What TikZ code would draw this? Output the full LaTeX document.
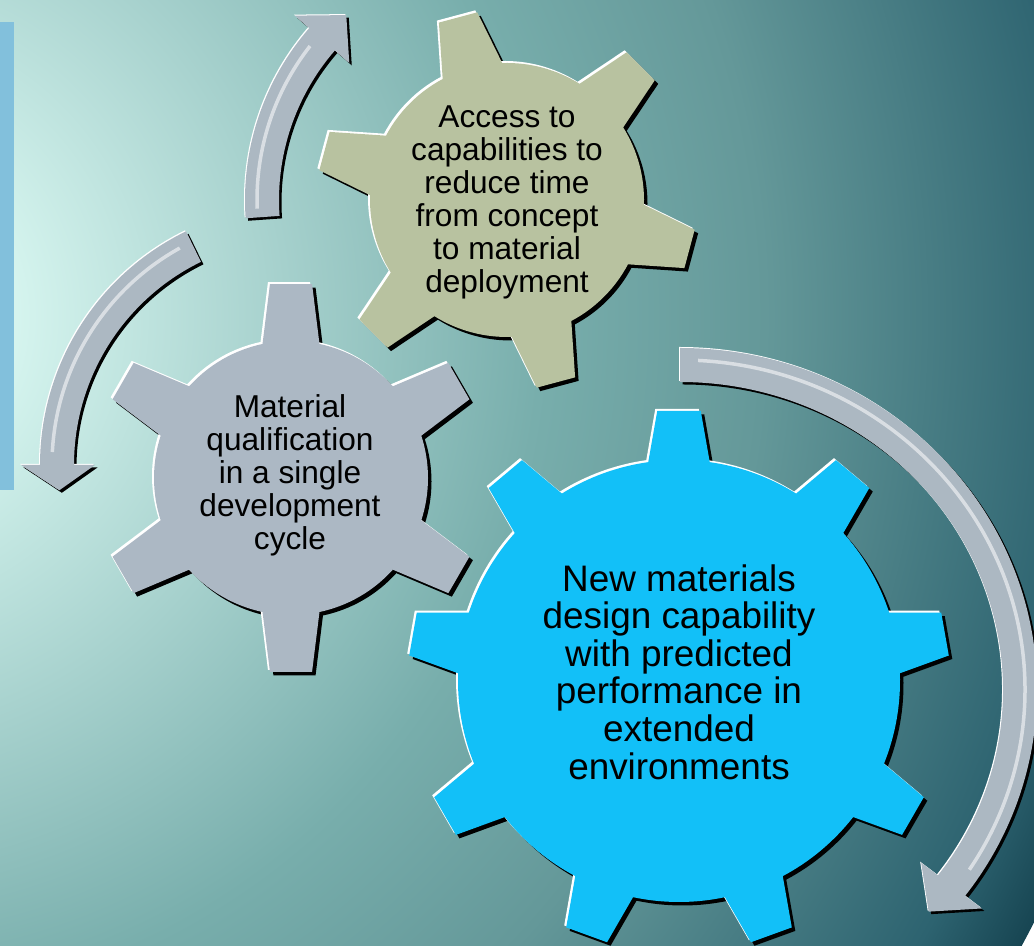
\documentclass[tikz,border=0pt]{standalone}
\usepackage{fontspec}
\setmainfont{Liberation Sans}
\usepackage{tikz}
\usetikzlibrary{shadows}
\definecolor{bglight}{RGB}{214,245,239}
\definecolor{bgmid}{RGB}{120,174,172}
\definecolor{bgmidd}{RGB}{100,152,153}
\definecolor{bgdeep}{RGB}{45,99,112}
\definecolor{bgdark}{RGB}{23,69,82}
\definecolor{barblue}{RGB}{130,192,220}
\definecolor{olivegear}{RGB}{184,194,160}
\definecolor{greygear}{RGB}{172,184,196}
\definecolor{cyangear}{RGB}{18,192,248}
\definecolor{silver}{RGB}{172,184,194}
\pgfdeclareradialshading{bgglow}{\pgfpoint{0bp}{0bp}}{color(0bp)=(bglight); color(3bp)=(bglight);
  color(13bp)=(bgmid); color(17.2bp)=(bgmidd); color(23.3bp)=(bgdeep); color(25bp)=(bgdark);
  color(50bp)=(bgdark)}
\tikzset{
  gear/.style      = {fill=#1,
                      general shadow={fill=black, shadow xshift=.07cm, shadow yshift=-.07cm},
                      general shadow={fill=white, shadow xshift=-.04cm, shadow yshift=.04cm}},
  bend arrow/.style = {fill=silver,
                      general shadow={fill=black, shadow xshift=.05cm, shadow yshift=-.05cm},
                      general shadow={fill=white, shadow xshift=-.02cm, shadow yshift=.02cm}},
  shine/.style     = {draw=white, opacity=.55, line width=.07cm},
  lbl/.style       = {align=center, inner sep=0pt, font=\fontsize{18}{18.8}\selectfont},
  big lbl/.style   = {lbl, font=\fontsize{21}{21.4}\selectfont},
}
% gear outline: teeth, outer r, root r, tip half angle, base half angle, first tooth
\newcommand{\gearpath}[6]{({#6+#5}:#3)
  \foreach \k in {1,...,#1}{
    arc[start angle={#6+(\k-1)*360/#1+#5}, end angle={#6+\k*360/#1-#5}, radius=#3]
    -- ({#6+\k*360/#1-#4}:#2) -- ({#6+\k*360/#1+#4}:#2) -- ({#6+\k*360/#1+#5}:#3)}
  -- cycle}

\begin{document}
\begin{tikzpicture}[x=0.02cm, y=0.02cm]
  \useasboundingbox (0,0) rectangle (1034,946);
  \begin{scope}
    \clip (0,0) rectangle (1034,946);
    \shade[shading=bgglow] (-150,630) circle (1330);
  \end{scope}
  \fill[barblue] (0,456) rectangle (14,924);

  % round arrows
  \begin{scope}[shift={(507,746)}]
    \fill[bend arrow] (184:262) arc[start angle=184, end angle=139, radius=262]
      -- (139:281) -- (131:245) -- (139:209) -- (139:228)
      arc[start angle=139, end angle=184, radius=228] -- cycle;
    \draw[shine] (182:250) arc[start angle=182, end angle=142, radius=250];
  \end{scope}
  \begin{scope}[shift={(300,481)}]
    \fill[bend arrow] (116:260) arc[start angle=116, end angle=180, radius=260]
      -- (180:279) -- (186:242) -- (180:205) -- (180:226)
      arc[start angle=180, end angle=116, radius=226] -- cycle;
    \draw[shine] (119:248) arc[start angle=119, end angle=177, radius=248];
  \end{scope}
  \begin{scope}[shift={(680,256)}]
    \fill[bend arrow] (90:357 and 342) arc[start angle=90, end angle=-37, x radius=357, y radius=342]
      -- (-37:378 and 363) -- (-43:340 and 325) -- (-37:302 and 287) -- (-37:323 and 308)
      arc[start angle=-37, end angle=90, x radius=323, y radius=308] -- cycle;
    \draw[shine] (87:345 and 330) arc[start angle=87, end angle=-33, x radius=345, y radius=330];
  \end{scope}

  % gears
  \fill[gear=olivegear, shift={(507,746)}] \gearpath{6}{190}{137}{6}{13}{105};
  \fill[gear=greygear, shift={(291,468)}] \gearpath{6}{195}{137}{6.2}{12}{90};
  \fill[gear=cyangear, shift={(679,265)}] \gearpath{9}{271}{221}{4.6}{8}{90};

  \node[lbl] (access) at (507,744) {Access to\\capabilities to\\reduce time\\from concept\\to material\\deployment};
  \node[lbl] (qual) at (290,471) {Material\\qualification\\in a single\\development\\cycle};
  \node[big lbl] (design) at (679,274) {New materials\\design capability\\with predicted\\performance in\\extended\\environments};
\end{tikzpicture}
\end{document}
